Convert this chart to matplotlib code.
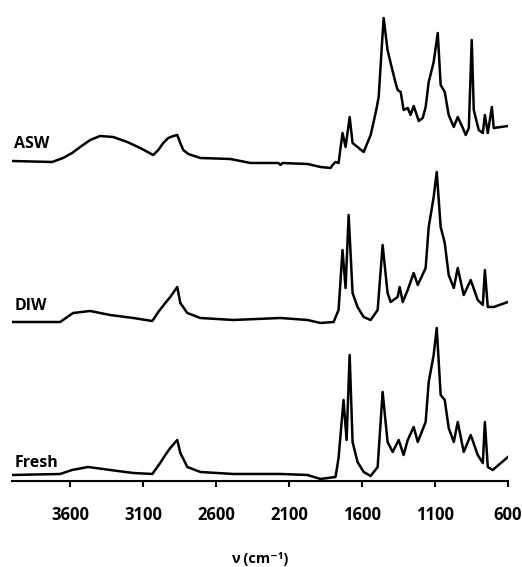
import numpy as np
import matplotlib
matplotlib.use("Agg")
import matplotlib.pyplot as plt

# wavenumber (cm-1) and stacked absorbance (arbitrary units, offset already applied)
asw_wn = [4000, 3725, 3650, 3588, 3533, 3464, 3396, 3306, 3210, 3121, 3032, 2997, 2963,
          2929, 2894, 2867, 2846, 2826, 2791, 2709, 2503, 2365, 2173, 2159, 2146, 1974,
          1885, 1816, 1802, 1782, 1761, 1734, 1713, 1685, 1665, 1631, 1589, 1541, 1507,
          1486, 1466, 1452, 1425, 1404, 1370, 1356, 1335, 1315, 1287, 1267, 1246, 1211,
          1184, 1164, 1143, 1109, 1081, 1061, 1033, 1006, 971, 944, 909, 889, 868, 848,
          834, 800, 772, 758, 738, 710, 697, 600]
asw_a = [3.20, 3.19, 3.23, 3.28, 3.34, 3.41, 3.45, 3.44, 3.39, 3.33, 3.26, 3.31, 3.38,
         3.43, 3.45, 3.46, 3.38, 3.31, 3.27, 3.23, 3.22, 3.18, 3.18, 3.16, 3.18, 3.17,
         3.14, 3.13, 3.16, 3.19, 3.18, 3.48, 3.34, 3.64, 3.38, 3.34, 3.29, 3.46, 3.68,
         3.84, 4.31, 4.63, 4.31, 4.18, 3.98, 3.91, 3.89, 3.71, 3.73, 3.66, 3.75, 3.60,
         3.63, 3.74, 3.99, 4.19, 4.48, 3.96, 3.89, 3.66, 3.54, 3.64, 3.53, 3.46, 3.53,
         4.41, 3.71, 3.51, 3.48, 3.66, 3.48, 3.74, 3.53, 3.55]

diw_wn = [4000, 3670, 3581, 3464, 3327, 3169, 3038, 2997, 2949, 2915, 2867, 2846, 2798,
          2709, 2482, 2159, 1974, 1885, 1795, 1761, 1734, 1713, 1692, 1665, 1631, 1589,
          1541, 1493, 1459, 1425, 1404, 1356, 1342, 1321, 1287, 1246, 1218, 1164, 1143,
          1109, 1088, 1061, 1033, 1006, 971, 944, 903, 855, 807, 772, 758, 738, 697, 600]
diw_a = [1.59, 1.59, 1.68, 1.70, 1.66, 1.63, 1.60, 1.69, 1.78, 1.84, 1.94, 1.78, 1.68,
         1.63, 1.61, 1.63, 1.61, 1.58, 1.59, 1.71, 2.31, 1.93, 2.66, 1.88, 1.74, 1.64,
         1.61, 1.71, 2.36, 1.88, 1.79, 1.84, 1.94, 1.79, 1.91, 2.08, 1.96, 2.13, 2.54,
         2.84, 3.09, 2.54, 2.38, 2.06, 1.93, 2.13, 1.86, 2.01, 1.81, 1.76, 2.11, 1.74,
         1.74, 1.79]

fresh_wn = [4000, 3670, 3588, 3478, 3327, 3169, 3038, 2984, 2949, 2915, 2867, 2846, 2798,
            2709, 2482, 2159, 1974, 1885, 1782, 1761, 1727, 1706, 1685, 1665, 1631, 1589,
            1541, 1493, 1459, 1425, 1390, 1349, 1315, 1287, 1246, 1218, 1164, 1143, 1109,
            1088, 1061, 1033, 1006, 971, 944, 903, 855, 807, 772, 758, 738, 704, 600]
fresh_a = [0.06, 0.07, 0.11, 0.14, 0.11, 0.08, 0.07, 0.18, 0.26, 0.33, 0.41, 0.28, 0.14,
           0.09, 0.07, 0.07, 0.06, 0.02, 0.04, 0.23, 0.81, 0.41, 1.26, 0.39, 0.19, 0.09,
           0.05, 0.14, 0.89, 0.39, 0.29, 0.41, 0.26, 0.41, 0.54, 0.39, 0.59, 0.99, 1.26,
           1.53, 0.86, 0.81, 0.53, 0.39, 0.59, 0.29, 0.46, 0.26, 0.18, 0.59, 0.14, 0.11,
           0.24]

labels = ["ASW", "DIW", "Fresh"]
label_y = [3.33, 1.71, 0.14]
xticks = [3600, 3100, 2600, 2100, 1600, 1100, 600]
fonts = ["Open Sans", "DejaVu Sans"]

fig = plt.figure(figsize=(5.22, 5.67), dpi=100)
ax = fig.add_axes([0.023, 0.1517, 0.95, 0.8483])

for wn, a in [(asw_wn, asw_a), (diw_wn, diw_a), (fresh_wn, fresh_a)]:
    ax.plot(wn, a, color="black", lw=1.8, solid_joinstyle="round")

for name, yy in zip(labels, label_y):
    ax.text(3985, yy, name, ha="left", va="baseline", fontsize=11.5,
            fontweight="bold", family=fonts)

ax.set_xlim(4000, 600)
ax.set_ylim(0, 4.81)
for s in ["top", "right", "left"]:
    ax.spines[s].set_visible(False)
ax.spines["bottom"].set_linewidth(1.5)
ax.set_yticks([])
ax.set_xticks(xticks)
ax.set_xticklabels([str(t) for t in xticks], fontsize=12, fontweight="bold", family=fonts)
ax.tick_params(axis="x", direction="out", length=4, width=1.5, pad=14)
ax.set_xlabel("ν (cm⁻¹)", fontsize=10.5, fontweight="bold", family=fonts, labelpad=20)

fig.savefig("out.png", dpi=100)
